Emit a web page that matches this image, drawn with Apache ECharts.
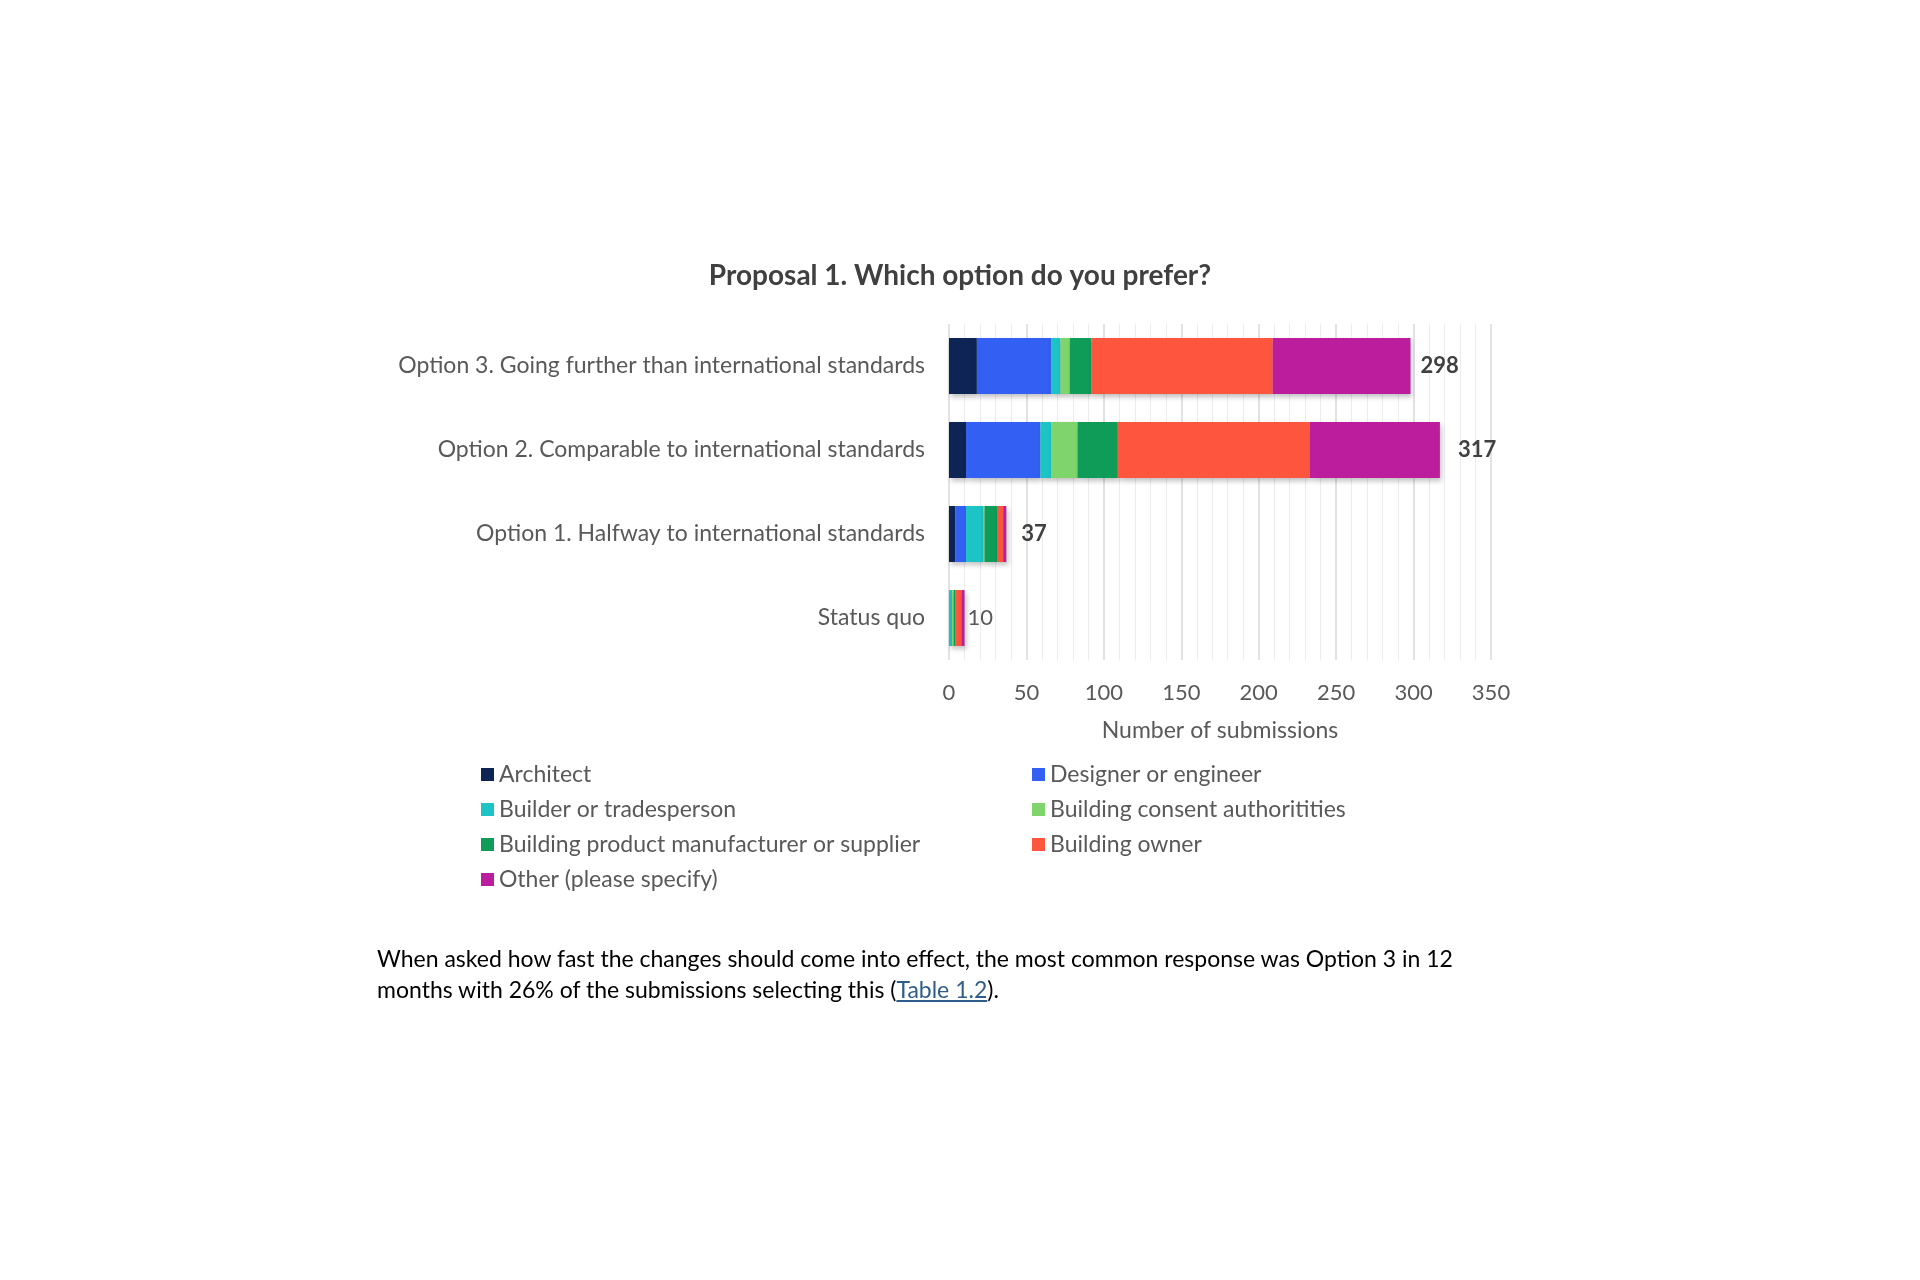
<!DOCTYPE html>
<html>
<head>
<meta charset="utf-8">
<title>Proposal 1</title>
<script src="https://cdn.jsdelivr.net/npm/echarts/dist/echarts.min.js"></script>
<style>
  html, body { margin: 0; padding: 0; background: #fff; }
  #chart { width: 1920px; height: 1280px; }
  #note {
    position: absolute; left: 377px; top: 943px; width: 1120px;
    font-family: Lato, "Noto Sans", sans-serif; font-size: 23px; line-height: 31px; color: #000;
  }
  #note a { color: #2e5d8c; text-decoration: underline; }
</style>
</head>
<body>
<div id="chart"></div>
<div id="note">When asked how fast the changes should come into effect, the most common response was Option 3 in 12 months with 26% of the submissions selecting this (<a>Table 1.2</a>).</div>
<script>
// rows from bottom to top
var categories = ['Status quo', 'Option 1. Halfway to international standards',
  'Option 2. Comparable to international standards', 'Option 3. Going further than international standards']

var groups = ['Architect', 'Designer or engineer', 'Builder or tradesperson', 'Building consent authoritities',
  'Building product manufacturer or supplier', 'Building owner', 'Other (please specify)']

var architect    = [0, 4, 11, 18]
var designer     = [0, 7, 48, 48]
var builder      = [2, 11, 7, 6]
var consent      = [1, 1, 17, 6]
var manufacturer = [1, 8, 26, 14]
var owner        = [4, 4, 124, 117]
var other        = [2, 2, 84, 89]

var colors = ['#0e2455', '#3360f2', '#1cc4c6', '#7fd46b', '#0f9c59', '#fe553f', '#bb1d9d']

var xTicks = [0, 50, 100, 150, 200, 250, 300, 350]

var values = [architect, designer, builder, consent, manufacturer, owner, other]
var totals = categories.map(function(c, i){
  var s = 0
  for(var k=0; k<values.length; k++) s += values[k][i]
  return s
})

var font = 'Lato, "Noto Sans", sans-serif'
var chart = echarts.init(document.getElementById('chart'))

var series = groups.map(function(name, k){
  return {
    name: name,
    type: 'bar',
    stack: 'all',
    barWidth: 56,
    itemStyle: {
      color: colors[k],
      shadowBlur: 5,
      shadowOffsetX: 2,
      shadowOffsetY: 3,
      shadowColor: 'rgba(0,0,0,0.25)'
    },
    data: values[k]
  }
})

// zero-width end piece that carries the total labels
var labelGap = [3, 15, 18, 10]
series.push({
  name: 'Total',
  type: 'bar',
  stack: 'all',
  barWidth: 56,
  itemStyle: { color: 'rgba(0,0,0,0)' },
  data: totals.map(function(t, i){
    return {
      value: 0,
      label: i === 0
        ? { fontWeight: 'normal', color: '#595959', distance: labelGap[i] }
        : { fontWeight: 'bold', color: '#404040', distance: labelGap[i] }
    }
  }),
  label: {
    show: true,
    position: 'right',
    fontFamily: font,
    fontSize: 22,
    formatter: function(p){ return totals[p.dataIndex] }
  }
})

var legendText = { fontFamily: font, fontSize: 23, color: '#595959' }

chart.setOption({
  animation: false,
  color: colors,
  title: {
    text: 'Proposal 1. Which option do you prefer?',
    left: 955,
    textAlign: 'center',
    top: 257,
    textStyle: { fontFamily: font, fontSize: 28, fontWeight: 'bold', color: '#404040' }
  },
  legend: [{
    orient: 'vertical',
    left: 481,
    top: 763,
    padding: 0,
    itemWidth: 13,
    itemHeight: 13,
    itemGap: 12,
    icon: 'rect',
    textStyle: legendText,
    data: [groups[0], groups[2], groups[4], groups[6]]
  }, {
    orient: 'vertical',
    left: 1032,
    top: 763,
    padding: 0,
    itemWidth: 13,
    itemHeight: 13,
    itemGap: 12,
    icon: 'rect',
    textStyle: legendText,
    data: [groups[1], groups[3], groups[5]]
  }],
  grid: { left: 949, right: 429, top: 324, height: 336, containLabel: false },
  xAxis: {
    type: 'value',
    min: xTicks[0],
    max: xTicks[xTicks.length - 1],
    interval: 50,
    name: 'Number of submissions',
    nameLocation: 'middle',
    nameGap: 59,
    nameTextStyle: { fontFamily: font, fontSize: 23, color: '#595959' },
    axisLine: { show: false },
    axisTick: { show: false },
    axisLabel: { fontFamily: font, fontSize: 22, color: '#595959', margin: 22 },
    splitLine: { lineStyle: { color: '#d9d9d9', width: 1.5 } },
    minorTick: { show: false, splitNumber: 5 },
    minorSplitLine: { show: true, lineStyle: { color: '#ececec', width: 1 } }
  },
  yAxis: {
    type: 'category',
    data: categories,
    axisLine: { show: false },
    axisTick: { show: false },
    axisLabel: { fontFamily: font, fontSize: 23, color: '#595959', margin: 24 }
  },
  series: series
})
</script>
</body>
</html>
